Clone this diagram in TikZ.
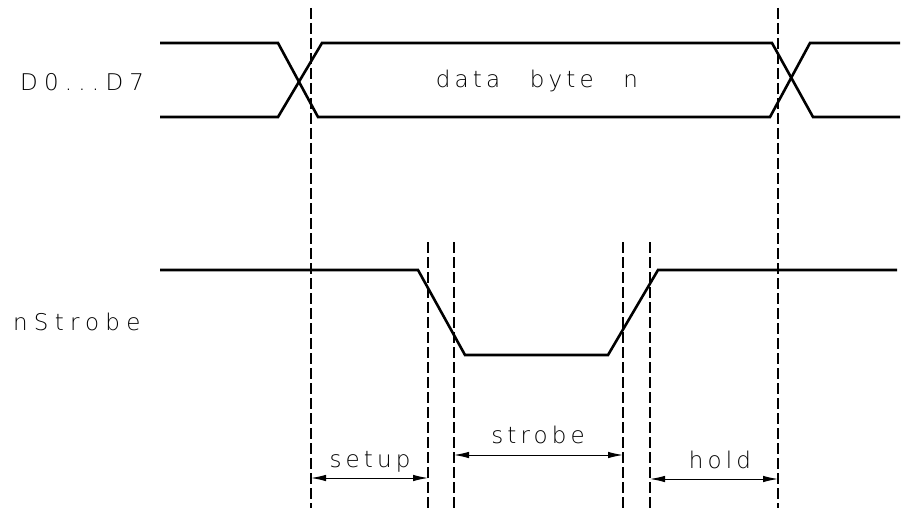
\documentclass[tikz,border=0pt]{standalone}
\usepackage{fontspec}
\newfontfamily\plotfont[LetterSpace=18,WordSpace=2.6]{DejaVu Sans ExtraLight}
\newfontfamily\plotwide[LetterSpace=27]{DejaVu Sans ExtraLight}
\usetikzlibrary{arrows.meta}
\begin{document}
\begin{tikzpicture}[x=1pt,y=-1pt,
  signal/.style={line width=2.6pt,line join=miter},
  guide/.style={line width=2.9pt,dash pattern=on 11pt off 4pt},
  span/.style={line width=1pt,{Latex[length=15pt,width=6.5pt]}-{Latex[length=15pt,width=6.5pt]}},
  lbl/.style={font=\plotfont\fontsize{23}{25}\selectfont,inner sep=0pt},
  side/.style={font=\plotwide\fontsize{23}{25}\selectfont,inner sep=0pt}]
\useasboundingbox (0,0) rectangle (905,508);
% data bus
\draw[signal] (160,43) -- (278,43) -- (318,117) -- (770,117) -- (810,43) -- (900,43);
\draw[signal] (160,117) -- (278,117) -- (322,43) -- (772,43) -- (813,117) -- (900,117);
% strobe
\draw[signal] (160,270) -- (418,270) -- (465,355) -- (608,355) -- (658,270) -- (897,270);
% guides
\coordinate (g1t) at (311,8);   \coordinate (g1b) at (311,508);
\coordinate (g6t) at (778,8);   \coordinate (g6b) at (778,508);
\coordinate (g2t) at (428,242); \coordinate (g2b) at (428,508);
\coordinate (g3t) at (454,242); \coordinate (g3b) at (454,508);
\coordinate (g4t) at (623,242); \coordinate (g4b) at (623,508);
\coordinate (g5t) at (650,242); \coordinate (g5b) at (650,508);
\foreach \g in {1,...,6} \draw[guide] (g\g t) -- (g\g b);
% spans
\coordinate (s1) at (311,478); \coordinate (s2) at (428,478);
\coordinate (s3) at (454,455); \coordinate (s4) at (623,455);
\coordinate (s5) at (650,479); \coordinate (s6) at (778,479);
\draw[span] (s1) -- (s2);
\draw[span] (s3) -- (s4);
\draw[span] (s5) -- (s6);
% labels
\node[side,anchor=base west] (ld) at (20,91) {D0...D7};
\node[side,anchor=base west] (ls) at (13,330) {nStrobe};
\node[lbl,anchor=base] (lb) at (537,88) {data byte n};
\node[lbl,anchor=base] (lsu) at (370,467) {setup};
\node[lbl,anchor=base] (lst) at (538,443) {strobe};
\node[lbl,anchor=base] (lh) at (720,468) {hold};
\end{tikzpicture}
\end{document}
